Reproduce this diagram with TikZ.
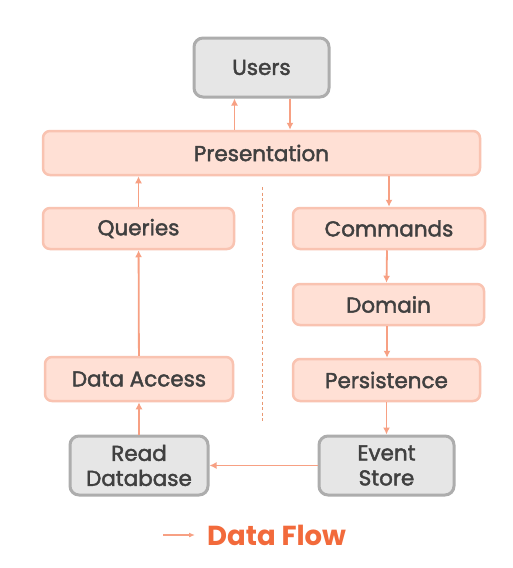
\documentclass[tikz,border=0pt]{standalone}
\usepackage{fontspec}
\setmainfont{Poppins}
\newfontfamily\labelfont{Poppins}[FakeBold=2]
\usetikzlibrary{positioning,arrows.meta}
\definecolor{layerFill}{HTML}{FFE0D5}
\definecolor{layerLine}{HTML}{F9C3B1}
\definecolor{storeFill}{HTML}{E6E6E6}
\definecolor{storeLine}{HTML}{ADADAD}
\definecolor{flowSalmon}{HTML}{F7A083}
\definecolor{legendOrange}{HTML}{F26A3B}
\definecolor{labelGray}{HTML}{404040}
\tikzset{
  layerbox/.style={draw=layerLine, fill=layerFill, line width=2.5pt, rounded corners=7pt,
    text=labelGray, font=\labelfont\fontsize{21.5}{25}\selectfont, inner sep=0pt},
  storebox/.style={draw=storeLine, fill=storeFill, line width=3pt, rounded corners=9pt,
    text=labelGray, font=\labelfont\fontsize{21.5}{25}\selectfont, align=center, inner sep=0pt},
  flow/.style={draw=flowSalmon, line width=1.8pt, -{Latex[length=7pt,width=7pt]}},
}
\begin{document}
\begin{tikzpicture}[x=1pt, y=-1pt]
  \useasboundingbox[fill=white] (0,0) rectangle (512,568);
  % outer stores
  \node[storebox, minimum width=135pt, minimum height=59pt] (users) at (261.5,67.5) {Users};
  \node[storebox, minimum width=138pt, minimum height=59pt] (readdb) at (139,465.5) {Read\\Database};
  \node[storebox, minimum width=135pt, minimum height=59pt] (events) at (386.5,465.5) {Event\\Store};
  % layers
  \node[layerbox, minimum width=437pt, minimum height=44pt] (pres) at (261.5,153) {Presentation};
  \node[layerbox, minimum width=191pt, minimum height=41pt] (queries) at (138.5,228.5) {Queries};
  \node[layerbox, minimum width=188pt, minimum height=44pt] (access) at (139,379) {Data Access};
  \node[layerbox, minimum width=192pt, minimum height=41pt] (commands) at (389,228.5) {Commands};
  \node[layerbox, minimum width=191pt, minimum height=41pt] (domain) at (388.5,304.5) {Domain};
  \node[layerbox, minimum width=187pt, minimum height=42pt] (persist) at (386.5,380) {Persistence};
  % split between read and write side
  \coordinate (splittop) at (262,187);
  \coordinate (splitbot) at (262,421);
  \draw[draw=flowSalmon!75!brown, line width=1pt, dash pattern=on 3pt off 2.5pt] (splittop) -- (splitbot);
  % data flow
  \draw[flow] ([xshift=-27pt]pres.north) -- ([xshift=-27pt]users.south);
  \draw[flow] ([xshift=28.5pt]users.south) -- ([xshift=28.5pt]pres.north);
  \draw[flow] (pres.south -| commands) -- (commands);
  \draw[flow] ([xshift=-2pt]commands.south) -- ([xshift=-2pt]domain.north);
  \draw[flow] ([xshift=-1.5pt]domain.south) -- ([xshift=-1.5pt]domain.south |- persist.north);
  \draw[flow] (persist) -- (events);
  \draw[flow] (events) -- (readdb);
  \draw[flow] (readdb) -- (access);
  \draw[flow] (access) -- (queries);
  \draw[flow] (queries) -- (queries |- pres.south);
  % legend
  \node[font=\fontsize{27.5}{32}\selectfont\bfseries, text=legendOrange, anchor=west, inner sep=0pt] (legend) at (207,535) {Data Flow};
  \coordinate[left=44pt of legend.west] (legendtail);
  \draw[draw=flowSalmon, line width=1.5pt, -{Latex[length=6pt,width=5pt]}] (legendtail) -- ([xshift=-12pt]legend.west);
\end{tikzpicture}
\end{document}
